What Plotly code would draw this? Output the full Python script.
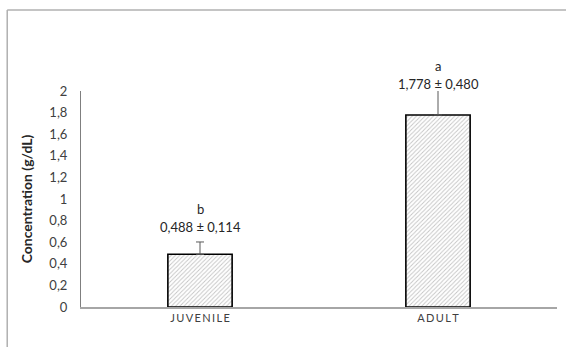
import plotly.graph_objects as go

categories = ["JUVENILE", "ADULT"]
means = [0.488, 1.778]
sds = [0.114, 0.480]
letters = ["b", "a"]
value_labels = ["0,488 ± 0,114", "1,778 ± 0,480"]
label_y = [0.744, 2.065]
y_max = 2

def spaced(s):
    return "\u2009".join(list(s))

fig = go.Figure()
fig.add_trace(go.Bar(
    x=categories, y=means, width=0.27,
    marker=dict(color="white", line=dict(color="black", width=1.6),
                pattern=dict(shape="/", fgcolor="#8a8a8a", bgcolor="white", size=3, solidity=0.3)),
    error_y=dict(type="data", symmetric=False, array=sds, arrayminus=[0, 0],
                 color="#595959", thickness=1, width=4),
))

for c, l, v, yy in zip(categories, letters, value_labels, label_y):
    fig.add_annotation(x=c, y=yy / y_max, xref="x", yref="paper", text=v, showarrow=False,
                       yanchor="middle", font=dict(family="Lato", size=13, color="#262626"))
    fig.add_annotation(x=c, y=yy / y_max, xref="x", yref="paper", text=l, showarrow=False, yshift=18,
                       yanchor="middle", font=dict(family="Lato", size=13, color="#262626"))

# outer frame (top and left edges)
fig.add_shape(type="line", xref="paper", yref="paper", x0=-0.155, x1=1.02, y0=1.375, y1=1.375,
              line=dict(color="#b0b0b0", width=1.5))
fig.add_shape(type="line", xref="paper", yref="paper", x0=-0.155, x1=-0.155, y0=1.375, y1=-0.19,
              line=dict(color="#b0b0b0", width=1.5))

fig.update_layout(
    width=566, height=347,
    margin=dict(l=81, r=9, t=91, b=40),
    paper_bgcolor="white", plot_bgcolor="white",
    separators=",.",
    showlegend=False,
    font=dict(family="Lato", color="#404040"),
    xaxis=dict(showline=True, linecolor="#a6a6a6", linewidth=1.5, ticks="",
               tickvals=categories, ticktext=[spaced(c) for c in categories],
               tickfont=dict(size=11, color="#404040"), showgrid=False),
    yaxis=dict(range=[0, y_max], tickvals=[0, 0.2, 0.4, 0.6, 0.8, 1, 1.2, 1.4, 1.6, 1.8, 2],
               showline=True, linecolor="#7f7f7f", linewidth=1, ticks="", showgrid=False,
               zeroline=False, tickfont=dict(size=13, color="#404040"), ticklabelstandoff=10,
               title=dict(text="<b>Concentration (g/dL)</b>", font=dict(size=14, color="#262626"), standoff=13)),
)

fig.write_html("out.html")
